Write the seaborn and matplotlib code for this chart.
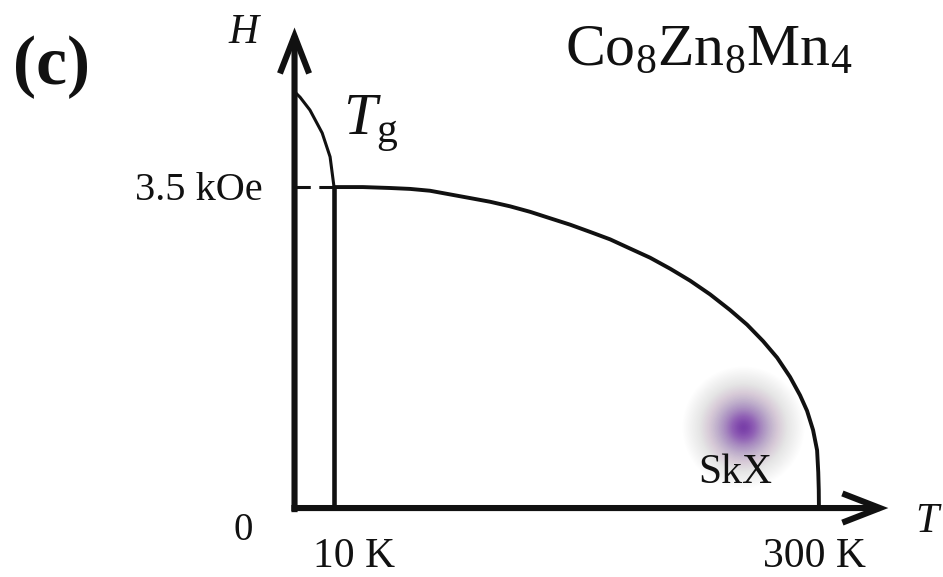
import numpy as np
import pandas as pd
import matplotlib
matplotlib.use("Agg")
import matplotlib.pyplot as plt
import seaborn as sns

# ---- data -------------------------------------------------------------
# upper boundary of the ordered phase (T in K, H in kOe)
boundary_T = [10, 27.3, 43.5, 55.5, 67.4, 79.4, 91.4, 103.3, 115.3, 127.3,
              139.2, 151.2, 163.3, 175.1, 187.0, 199.0, 211.0, 222.9, 234.9,
              246.8, 257.0, 266.6, 275.0, 282.7, 288.7, 292.9, 296.5, 298.9,
              299.6, 299.9, 300]
boundary_H = [3.50, 3.50, 3.49, 3.48, 3.46, 3.42, 3.38, 3.34, 3.29, 3.23,
              3.16, 3.09, 3.01, 2.93, 2.83, 2.73, 2.61, 2.48, 2.33,
              2.16, 2.00, 1.82, 1.64, 1.43, 1.23, 1.06, 0.85, 0.63,
              0.39, 0.20, 0.0]

# spin-glass freezing line T_g(H) below 10 K
tg_T = [0.0, 1.4, 3.9, 7.0, 9.0, 10.0]
tg_H = [4.54, 4.48, 4.34, 4.09, 3.83, 3.50]

# characteristic values marked on the axes
t_ticks = [10, 300]
t_labels = ["10 K", "300 K"]
h_ticks = [3.5]
h_labels = ["3.5 kOe"]

# skyrmion-lattice pocket
skx_T = 254.6
skx_H = 0.88

# ---- style ------------------------------------------------------------
sns.set_theme(style="white")
plt.rcParams["font.family"] = ["Liberation Serif", "DejaVu Serif"]
plt.rcParams["mathtext.fontset"] = "custom"
plt.rcParams["mathtext.rm"] = "Liberation Serif"
plt.rcParams["mathtext.it"] = "Liberation Serif:italic"
plt.rcParams["mathtext.bf"] = "Liberation Serif:bold"

W, H = 943, 577
fig = plt.figure(figsize=(W / 100, H / 100), dpi=100)
ax = fig.add_axes([0, 0, 1, 1])

# schematic temperature axis: the low-T region below 10 K is stretched
K_LOW, K_HIGH = 3.95, 1.672


def t_fwd(t):
    t = np.asarray(t, dtype=float)
    return np.where(t <= 10, t * K_LOW, 10 * K_LOW + (t - 10) * K_HIGH)


def t_inv(u):
    u = np.asarray(u, dtype=float)
    return np.where(u <= 10 * K_LOW, u / K_LOW, 10 + (u - 10 * K_LOW) / K_HIGH)


ax.set_xscale("function", functions=(t_fwd, t_inv))
ax.set_xlim(-74.56, 374.2)
ax.set_ylim(-0.752, 5.54)
ax.set_axis_off()

black = "#111111"

# ---- phase lines -------------------------------------------------------
df_b = pd.DataFrame({"T": boundary_T, "H": boundary_H})
sns.lineplot(data=df_b, x="T", y="H", ax=ax, color=black, lw=2.8,
             sort=False, estimator=None, solid_joinstyle="round",
             solid_capstyle="round")

df_g = pd.DataFrame({"T": tg_T, "H": tg_H})
sns.lineplot(data=df_g, x="T", y="H", ax=ax, color=black, lw=2.2,
             sort=False, estimator=None, solid_joinstyle="round")

# vertical line at 10 K up to the freezing line
ax.plot([t_ticks[0], t_ticks[0]], [0, h_ticks[0]], color=black, lw=3.3,
        solid_capstyle="butt")
# dashed continuation of 3.5 kOe to the H axis
ax.plot([0, t_ticks[0]], [h_ticks[0], h_ticks[0]], color=black, lw=2.2,
        linestyle=(0, (5.0, 2.8)))

# ---- axes with arrows ---------------------------------------------------
arrow_kw = dict(arrowstyle="->,head_length=2.7,head_width=1.05",
                lw=4.4, color=black, mutation_scale=10,
                shrinkA=0, shrinkB=0, joinstyle="miter", capstyle="butt")
ax.annotate("", xy=(0, 5.24), xytext=(0, -0.045), arrowprops=arrow_kw)
ax.annotate("", xy=(341.5, 0), xytext=(-0.8, 0), arrowprops=arrow_kw)

# ---- SkX glow: stacked translucent discs forming a radial gradient ------
R_MAX = 62
radii = np.linspace(R_MAX, 1, 90)


def glow(r):
    return 0.50 * np.exp(-(r / 18.0) ** 2) + 0.48 * np.exp(-(r / 40.0) ** 2)


target = np.clip((glow(radii) - glow(R_MAX)) / (1 - glow(R_MAX)) * 0.92, 0, 0.9)
prev = 0.0
for r, a in zip(radii, target):
    step = 1 - (1 - a) / (1 - prev)
    prev = a
    ax.scatter([skx_T], [skx_H], s=(2 * r * 0.72) ** 2, color="#7535a9",
               alpha=float(np.clip(step, 0, 1)), linewidths=0, zorder=1)

# ---- labels -------------------------------------------------------------
def px_text(x, y, s, **kw):
    fig.text(x / W, 1 - y / H, s, **kw)


px_text(52, 84, "(c)", fontsize=50, fontweight="bold", ha="center",
        va="baseline", color=black)
px_text(243, 43, "H", fontsize=30, fontstyle="italic", ha="center",
        va="baseline", color=black)
px_text(343, 135, r"$T_{\mathrm{g}}$", fontsize=43, ha="left",
        va="baseline", color=black)
px_text(565, 65, r"$\mathrm{Co_8Zn_8Mn_4}$", fontsize=43, ha="left",
        va="baseline", color=black)
px_text(927, 532, "T", fontsize=30, fontstyle="italic", ha="center",
        va="baseline", color=black)
px_text(735, 483, "SkX", fontsize=30, ha="center", va="baseline",
        color=black)

# H axis marks
ax.annotate(h_labels[0], xy=(0, h_ticks[0]), xytext=(-32, -13),
            textcoords="offset pixels", fontsize=29, ha="right",
            va="baseline", color=black)
ax.annotate("0", xy=(0, 0), xytext=(-51, -32), textcoords="offset pixels",
            fontsize=28, ha="center", va="baseline", color=black)

# T axis marks
for t, lab, dx in zip(t_ticks, t_labels, [20, -4]):
    ax.annotate(lab, xy=(t, 0), xytext=(dx, -59), textcoords="offset pixels",
                fontsize=30, ha="center", va="baseline", color=black)

fig.savefig("out.png", dpi=100)
